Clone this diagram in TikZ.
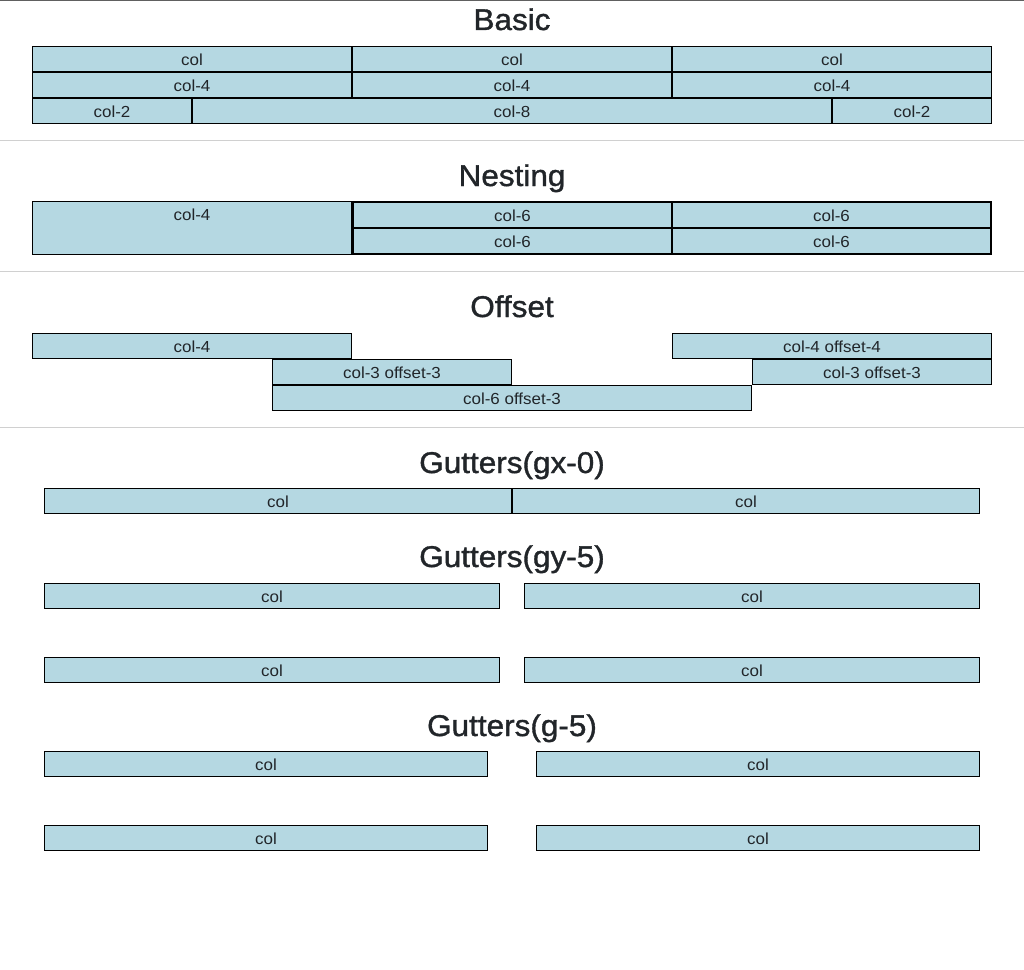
\documentclass[tikz,border=0pt]{standalone}
\usepackage{fontspec}
\setmainfont[FakeStretch=1.06]{Liberation Sans}
\newfontfamily\titlefont[FakeStretch=1.05,FakeBold=1.2]{Liberation Sans}
\definecolor{cellfill}{HTML}{B5D8E2}
\definecolor{ink}{HTML}{212529}
\definecolor{sepcol}{HTML}{D0D0D0}
\definecolor{topcol}{HTML}{606060}
\tikzset{
  cellbox/.style={draw=black, fill=cellfill, line width=0.75pt, inner sep=0pt, outer sep=0pt,
     text=ink, font=\fontsize{12pt}{14pt}\selectfont, text height=9.5pt, text depth=0pt},
  lbl/.style={text=ink, font=\fontsize{12pt}{14pt}\selectfont, inner sep=0pt},
  ttl/.style={text=ink, font=\titlefont\fontsize{22.5pt}{26pt}\selectfont, inner sep=0pt, anchor=base},
  sepline/.style={draw=sepcol, line width=0.75pt}
}
\newcommand\gcell[6]{\node[cellbox, minimum width={(#4-#2-1)*0.75pt}, minimum height={(#5-#3-1)*0.75pt}] (#1) at ({(#2+#4)/2},{(#3+#5)/2}) {#6};}
\begin{document}
\begin{tikzpicture}[x=0.75pt,y=-0.75pt]
\path[fill=white] (0,0) rectangle (1024,970);
\useasboundingbox (0,0) rectangle (1024,970);
% top line and separators
\coordinate (tl) at (0,0.5); \coordinate (tr) at (1024,0.5);
\draw[draw=topcol, line width=0.75pt] (tl) -- (tr);
\coordinate (s1l) at (0,140.5); \coordinate (s1r) at (1024,140.5);
\coordinate (s2l) at (0,271.5); \coordinate (s2r) at (1024,271.5);
\coordinate (s3l) at (0,427.5); \coordinate (s3r) at (1024,427.5);
\draw[sepline] (s1l) -- (s1r);
\draw[sepline] (s2l) -- (s2r);
\draw[sepline] (s3l) -- (s3r);
% Basic
\node[ttl] (tbasic) at (512,30) {Basic};
\gcell{b11}{32}{46}{352}{72}{col}
\gcell{b12}{352}{46}{672}{72}{col}
\gcell{b13}{672}{46}{992}{72}{col}
\gcell{b21}{32}{72}{352}{98}{col-4}
\gcell{b22}{352}{72}{672}{98}{col-4}
\gcell{b23}{672}{72}{992}{98}{col-4}
\gcell{b31}{32}{98}{192}{124}{col-2}
\gcell{b32}{192}{98}{832}{124}{col-8}
\gcell{b33}{832}{98}{992}{124}{col-2}
% Nesting
\node[ttl] (tnest) at (512,186) {Nesting};
\gcell{n4}{32}{201}{352}{255}{}
\node[lbl, anchor=base] (n4t) at (192,220) {col-4};
\gcell{n8}{352}{201}{992}{255}{}
\gcell{n11}{353}{202}{672}{228}{col-6}
\gcell{n12}{672}{202}{991}{228}{col-6}
\gcell{n21}{353}{228}{672}{254}{col-6}
\gcell{n22}{672}{228}{991}{254}{col-6}
% Offset
\node[ttl] (toff) at (512,317) {Offset};
\gcell{o11}{32}{333}{352}{359}{col-4}
\gcell{o12}{672}{333}{992}{359}{col-4 offset-4}
\gcell{o21}{272}{359}{512}{385}{col-3 offset-3}
\gcell{o22}{752}{359}{992}{385}{col-3 offset-3}
\gcell{o31}{272}{385}{752}{411}{col-6 offset-3}
% Gutters gx-0
\node[ttl] (tgx) at (512,473) {Gutters(gx-0)};
\gcell{gx1}{44}{488}{512}{514}{col}
\gcell{gx2}{512}{488}{980}{514}{col}
% Gutters gy-5
\node[ttl] (tgy) at (512,567) {Gutters(gy-5)};
\gcell{gy11}{44}{583}{500}{609}{col}
\gcell{gy12}{524}{583}{980}{609}{col}
\gcell{gy21}{44}{657}{500}{683}{col}
\gcell{gy22}{524}{657}{980}{683}{col}
% Gutters g-5
\node[ttl] (tg) at (512,736) {Gutters(g-5)};
\gcell{g11}{44}{751}{488}{777}{col}
\gcell{g12}{536}{751}{980}{777}{col}
\gcell{g21}{44}{825}{488}{851}{col}
\gcell{g22}{536}{825}{980}{851}{col}
\end{tikzpicture}
\end{document}
